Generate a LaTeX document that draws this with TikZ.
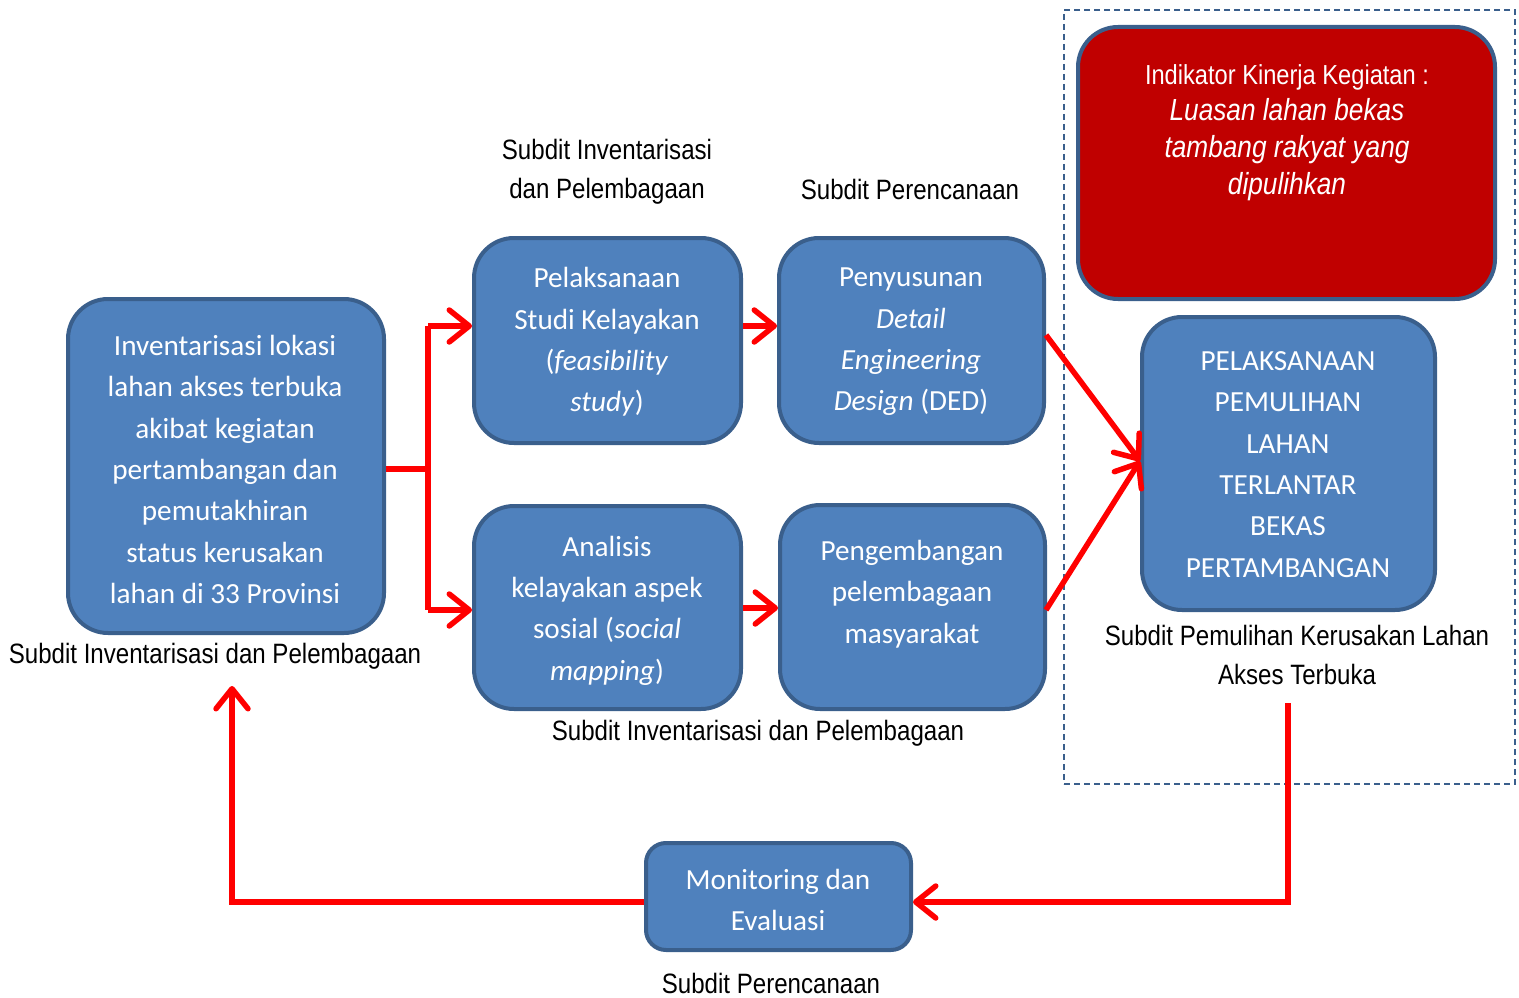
\documentclass[tikz,border=0pt]{standalone}
\usepackage{fontspec}
\setmainfont{Carlito}
\newfontfamily\narrow[FakeStretch=0.86]{Liberation Sans}
\usetikzlibrary{arrows.meta}
\definecolor{boxfill}{HTML}{4F81BD}
\definecolor{boxline}{HTML}{3A5F8C}
\definecolor{redfill}{HTML}{C00000}
\definecolor{arr}{HTML}{FF0000}
\tikzset{
  box/.style={draw=boxline, line width=4pt, fill=boxfill, rounded corners=40pt, inner sep=0pt},
  boxsmall/.style={box, rounded corners=20pt},
  txt/.style={text=white, align=center, font=\fontsize{29.2}{41.3}\selectfont, inner sep=0pt},
  lbl/.style={align=center, font=\narrow\fontsize{28}{38.5}\selectfont, inner sep=0pt},
  conn/.style={draw=arr, line width=5.5pt, line join=miter},
  arrw/.style={conn, -{Straight Barb[length=20pt,width=32pt,round]}},
}
\begin{document}
\begin{tikzpicture}[x=1pt,y=-1pt]
\useasboundingbox (0,0) rectangle (1519,998);
% dashed frame
\node[draw=boxline, line width=2pt, dash pattern=on 6pt off 4pt, minimum width=451pt, minimum height=774pt, inner sep=0pt] (frame) at (1289.5,397) {};
% boxes
\node[box, minimum width=316pt, minimum height=334pt] (A) at (226,466) {};
\node[box, minimum width=267pt, minimum height=205pt] (B) at (607.5,340.5) {};
\node[box, minimum width=265pt, minimum height=205pt] (C) at (911.5,340.5) {};
\node[box, minimum width=267pt, minimum height=203pt] (D) at (607.5,607.5) {};
\node[box, minimum width=265pt, minimum height=204pt] (E) at (912.5,607) {};
\node[box, minimum width=293pt, minimum height=293pt] (F) at (1288.5,463.5) {};
\node[box, fill=redfill, minimum width=417pt, minimum height=272pt] (G) at (1286.5,163) {};
\node[boxsmall, minimum width=265pt, minimum height=107pt] (H) at (778.5,896.5) {};
% texts
\node[txt] (tA) at (225,469.5) {Inventarisasi lokasi\\lahan akses terbuka\\akibat kegiatan\\pertambangan dan\\pemutakhiran\\status kerusakan\\lahan di 33 Provinsi};
\node[txt] (tB) at (607,342) {Pelaksanaan\\Studi Kelayakan\\(\textit{feasibility}\\\textit{study})};
\node[txt] (tC) at (911,342) {Penyusunan\\\textit{Detail}\\\textit{Engineering}\\\textit{Design} (DED)};
\node[txt] (tD) at (607,610.5) {Analisis\\kelayakan aspek\\sosial (\textit{social}\\\textit{mapping})};
\node[txt] (tE) at (912,594) {Pengembangan\\pelembagaan\\masyarakat};
\node[txt] (tF) at (1288,464.5) {PELAKSANAAN\\PEMULIHAN\\LAHAN\\TERLANTAR\\BEKAS\\PERTAMBANGAN};
\node[txt] (tH) at (778,900) {Monitoring dan\\Evaluasi};
\node[lbl, text=white, font=\narrow\fontsize{27.5}{30}\selectfont] (tG1) at (1287,77) {Indikator Kinerja Kegiatan :};
\node[lbl, text=white, font=\narrow\itshape\fontsize{30.5}{37}\selectfont] (tG2) at (1287,150) {Luasan lahan bekas\\tambang rakyat yang\\dipulihkan};
% labels
\node[lbl] (lB) at (607,172) {Subdit Inventarisasi\\dan Pelembagaan};
\node[lbl] (lC) at (910,189) {Subdit Perencanaan};
\node[lbl] (lA) at (215,656) {Subdit Inventarisasi dan Pelembagaan};
\node[lbl] (lD) at (758,733) {Subdit Inventarisasi dan Pelembagaan};
\node[lbl] (lF) at (1297,655) {Subdit Pemulihan Kerusakan Lahan\\Akses Terbuka};
\node[lbl] (lH) at (771,983) {Subdit Perencanaan};
% connectors
\coordinate (j) at (428,469);
\draw[conn] (A.east |- j) -- (j);
\draw[conn] (428,326) -- (428,610);
\draw[arrw] (428,326) -- (B.west |- 0,326);
\draw[arrw] (428,610) -- (D.west |- 0,610);
\draw[arrw] (B.east |- 0,326) -- (C.west |- 0,326);
\draw[arrw] (D.east |- 0,608) -- (E.west |- 0,608);
\coordinate (fin) at (1140,461);
\draw[arrw] (1046,335) -- (fin);
\draw[arrw] (1046,610) -- (fin);
\draw[arrw] (1288,703) -- (1288,902) -- (H.east |- 0,902);
\draw[arrw] (H.west |- 0,902) -- (232,902) -- (232,686);
\end{tikzpicture}
\end{document}
